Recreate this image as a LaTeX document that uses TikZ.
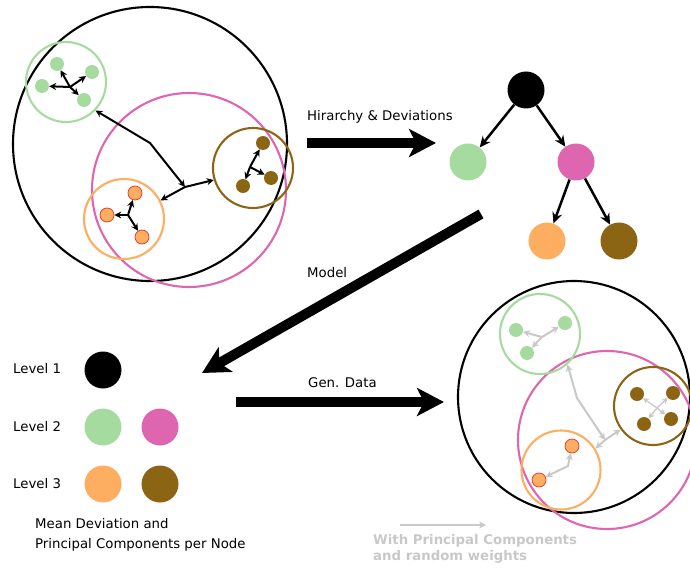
\documentclass[tikz,border=0pt]{standalone}
\usepackage{fontspec}
\setmainfont{DejaVu Sans}
\usetikzlibrary{calc,arrows.meta}
\definecolor{lvGreen}{RGB}{166,219,160}
\definecolor{lvPink}{RGB}{222,101,176}
\definecolor{lvOrange}{RGB}{253,174,97}
\definecolor{lvBrown}{RGB}{140,101,20}
\definecolor{dotRed}{RGB}{228,52,40}
\definecolor{pcGray}{RGB}{200,200,200}
\newcommand{\LblFont}{\fontsize{13.3}{20}\selectfont}
\tikzset{
  ring/.style={circle,draw=#1,line width=2.1pt,inner sep=0pt},
  dot/.style={circle,fill=#1,inner sep=0pt,minimum size=14pt},
  reddot/.style={circle,fill=lvOrange,draw=dotRed,line width=0.7pt,inner sep=0pt,minimum size=14pt},
  bigdot/.style={circle,fill=#1,inner sep=0pt,minimum size=37pt},
  pcarrow/.style={line width=2pt,-{Stealth[length=7pt,width=7pt]}},
  linkarrow/.style={line width=2pt,{Stealth[length=7pt,width=7pt]}-{Stealth[length=7pt,width=7pt]}},
  treearrow/.style={line width=2.5pt,-{Stealth[length=11pt,width=10pt]}},
  bigarrow/.style={line width=10pt,-{Stealth[length=27pt,width=28pt,inset=7pt]}},
  lbl/.style={font=\LblFont,inner sep=0pt,anchor=west}
}
\begin{document}
\begin{tikzpicture}[x=1pt,y=-1pt]
\useasboundingbox (0,0) rectangle (690,569);
% data space with the fitted clusters
\node[ring=black,minimum size=274pt] (tAll) at (150,144) {};
\node[ring=lvPink,minimum size=194pt] (tPink) at (189,190) {};
\node[ring=lvGreen,minimum size=80pt] (tGreen) at (66,82) {};
\node[ring=lvOrange,minimum size=80pt] (tOrange) at (124,219) {};
\node[ring=lvBrown,minimum size=80pt] (tBrown) at (253,168) {};
\node[dot=lvGreen] (tg1) at (57,64) {};
\node[dot=lvGreen] (tg2) at (92,72) {};
\node[dot=lvGreen] (tg3) at (42,86) {};
\node[dot=lvGreen] (tg4) at (84,100) {};
\node[reddot] (to1) at (135,193) {};
\node[reddot] (to2) at (107,215) {};
\node[reddot] (to3) at (142,237) {};
\node[dot=lvBrown] (tb1) at (263,143) {};
\node[dot=lvBrown] (tb2) at (243,186) {};
\node[dot=lvBrown] (tb3) at (271,178) {};
\coordinate (tgc) at (70,87);
\coordinate (toc) at (128,215);
\coordinate (tbc) at (250,167);
\foreach \d in {tg1,tg2,tg3,tg4} \draw[pcarrow] (tgc) -- (\d);
\foreach \d in {to1,to2,to3} \draw[pcarrow] (toc) -- (\d);
\foreach \d in {tb1,tb2,tb3} \draw[pcarrow] (tbc) -- (\d);
\coordinate (tBend) at (150,143);
\coordinate (tJoin) at (185,187);
\draw[linkarrow] (tGreen.-44) -- (tBend) -- (tJoin);
\draw[linkarrow] (tOrange.27) -- (tJoin) -- (tBrown.197);
% hierarchy
\coordinate (hA) at (307,143);
\coordinate (hB) at (436,143);
\draw[bigarrow] (hA) -- (hB);
\node[lbl] (hLbl) at (307,117) {Hirarchy \& Deviations};
\node[bigdot=black] (n0) at (526,90) {};
\node[bigdot=lvGreen] (n1) at (468,162) {};
\node[bigdot=lvPink] (n2) at (576,162) {};
\node[bigdot=lvOrange] (n3) at (547,241) {};
\node[bigdot=lvBrown] (n4) at (619,241) {};
\draw[treearrow] (n0) -- (n1);
\draw[treearrow] (n0) -- (n2);
\draw[treearrow] (n2) -- (n3);
\draw[treearrow] (n2) -- (n4);
% model
\coordinate (mA) at (481,214);
\coordinate (mB) at (202,373);
\draw[bigarrow] (mA) -- (mB);
\node[lbl] (mLbl) at (307,273) {Model};
\node[lbl] (lv1) at (13,369) {Level 1};
\node[lbl] (lv2) at (13,427) {Level 2};
\node[lbl] (lv3) at (13,484) {Level 3};
\node[bigdot=black] (m0) at (103,370) {};
\node[bigdot=lvGreen] (m1) at (103,427) {};
\node[bigdot=lvPink] (m2) at (160,427) {};
\node[bigdot=lvOrange] (m3) at (103,484) {};
\node[bigdot=lvBrown] (m4) at (160,484) {};
\node[lbl,align=left,anchor=north west] (mNote) at (35,518) {Mean Deviation and\\Principal Components per Node};
% generated data
\coordinate (gA) at (236,402);
\coordinate (gB) at (444,402);
\draw[bigarrow] (gA) -- (gB);
\node[lbl] (gLbl) at (308,383) {Gen. Data};
\node[ring=black,minimum size=232pt] (bAll) at (574,397) {};
\node[ring=lvPink,minimum size=178pt] (bPink) at (607,440) {};
\node[ring=lvGreen,minimum size=80pt] (bGreen) at (540,334) {};
\node[ring=lvBrown,minimum size=78pt] (bBrown) at (653,406) {};
\node[ring=lvOrange,minimum size=79pt] (bOrange) at (561,470) {};
\node[dot=lvGreen] (bg1) at (516,330) {};
\node[dot=lvGreen] (bg2) at (565,323) {};
\node[dot=lvGreen] (bg3) at (527,353) {};
\node[dot=lvBrown] (bb1) at (637,394) {};
\node[dot=lvBrown] (bb2) at (673,393) {};
\node[dot=lvBrown] (bb3) at (644,424) {};
\node[dot=lvBrown] (bb4) at (671,419) {};
\node[reddot] (bo1) at (572,446) {};
\node[reddot] (bo2) at (539,480) {};
\coordinate (bgc) at (542,337);
\coordinate (bbc) at (657,408);
\coordinate (boc) at (568,466);
\foreach \d in {bg1,bg2,bg3} \draw[pcarrow,draw=pcGray,-{Stealth[length=7pt,width=7pt,fill=pcGray]}] (bgc) -- (\d);
\foreach \d in {bb1,bb2,bb3,bb4} \draw[pcarrow,draw=pcGray,line width=1.3pt,-{Stealth[length=6pt,width=6pt,fill=pcGray]}] (bbc) -- (\d);
\draw[linkarrow,draw=pcGray] (bo2) -- (boc) -- (bo1);
\coordinate (bBend) at (577,398);
\coordinate (bJoin) at (605,440);
\draw[linkarrow,draw=pcGray] (bGreen.-48) -- (bBend) -- (bJoin);
\draw[linkarrow,draw=pcGray] (bOrange.32) -- (bJoin) -- (bBrown.216);
\coordinate (pcA) at (400,525);
\coordinate (pcB) at (486,525);
\draw[pcarrow,draw=pcGray,line width=1.3pt] (pcA) -- (pcB);
\node[lbl,align=left,anchor=north west,text=pcGray,font=\fontsize{13.3}{16}\selectfont\bfseries] (pcNote) at (373,534) {With Principal Components\\and random weights};
\end{tikzpicture}
\end{document}
